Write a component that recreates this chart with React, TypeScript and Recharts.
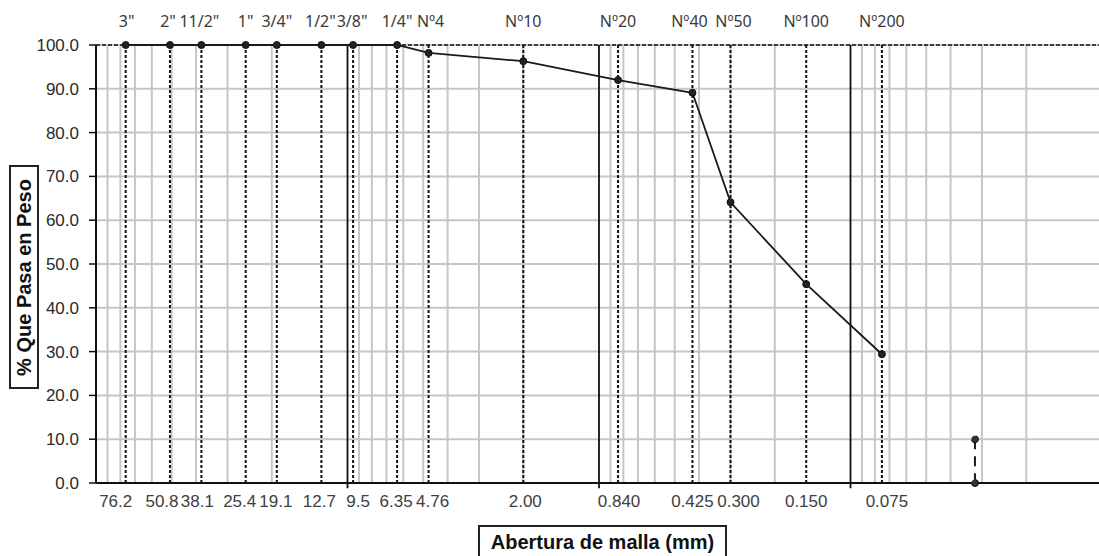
import { ComposedChart, Line, XAxis, YAxis, CartesianGrid, ReferenceLine } from 'recharts'

// sieve series (size in mm, % passing)
const sieveNames = ['3"', '2"', '11/2"', '1"', '3/4"', '1/2"', '3/8"', '1/4"', 'Nº4', 'Nº10', 'Nº20', 'Nº40', 'Nº50', 'Nº100', 'Nº200']
const sieveSizes = [76.2, 50.8, 38.1, 25.4, 19.1, 12.7, 9.5, 6.35, 4.76, 2.0, 0.84, 0.425, 0.3, 0.15, 0.075]
const sizeLabels = ['76.2', '50.8', '38.1', '25.4', '19.1', '12.7', '9.5', '6.35', '4.76', '2.00', '0.840', '0.425', '0.300', '0.150', '0.075']
const passing = [100, 100, 100, 100, 100, 100, 100, 100, 98.2, 96.3, 92.0, 89.1, 64.1, 45.4, 29.4]

// D10 marker (dashed segment)
const d10Size = [0.032, 0.032]
const d10Pass = [10, 0]

const yTicks = [0, 10, 20, 30, 40, 50, 60, 70, 80, 90, 100]
const yMinorTicks = [0, 4, 8, 10, 12, 16, 20, 24, 28, 30, 32, 36, 40, 44, 48, 50, 52, 56, 60, 64, 68, 70, 72, 76, 80, 84, 88, 90, 92, 96, 100]
const decades = [10, 1, 0.1]
const multiples = [2, 3, 4, 5, 6, 7, 8, 9]
const decadeBases = [0.01, 0.1, 1, 10]

// label nudges (px) so the crowded size labels don't collide, as in the original sheet
const bottomNudge = [-10, -8, -4, -6, -1, -2, 5, -1, 4, 2, 1, 0, 8, 0, 5]
const topNudge = [1, -2, -2, 0, 0, -1, -1, 0, 2, 0, 0, -3, 3, 0, 0]

const gridValues = decadeBases.flatMap((b) => [1, ...multiples].map((m) => Number((b * m).toPrecision(3)))).filter((v) => v > 0.01 && v < 100)
const minorGrid = gridValues.filter((v) => !decades.includes(v))

const curve = sieveSizes.map((s, i) => ({ size: s, pass: passing[i] }))
const d10 = d10Size.map((s, i) => ({ size: s, pass: d10Pass[i] }))

const DOMAIN: [number, number] = [0.01, 100]
const GRID = '#c6c6c6'
const FONT = 'Liberation Sans, Arial, sans-serif'

function BottomTick(props: any) {
  const i = sieveSizes.indexOf(props.payload?.value)
  return (
    <text x={props.x + (bottomNudge[i] ?? 0)} y={props.y} dy="0.71em" textAnchor="middle" fill="#404040" fontSize={17} fontFamily={FONT}>
      {sizeLabels[i] ?? ''}
    </text>
  )
}

function TopTick(props: any) {
  const i = sieveSizes.indexOf(props.payload?.value)
  return (
    <text x={props.x + (topNudge[i] ?? 0)} y={props.y} textAnchor="middle" fill="#3a3a3a" fontSize={16} fontFamily="Noto Sans, sans-serif">
      {sieveNames[i] ?? ''}
    </text>
  )
}

export default function App() {
  return (
    <div style={{ position: 'absolute', left: 0, top: 0, width: 1099, height: 556, overflow: 'hidden', background: '#fff' }}>
      <ComposedChart width={1110} height={556} margin={{ top: 0, right: 8, bottom: 0, left: 0 }}>
        <CartesianGrid vertical={false} stroke={GRID} strokeWidth={2} />
        {minorGrid.map((v) => (
          <ReferenceLine key={`g${v}`} x={v} stroke={GRID} strokeWidth={2} />
        ))}
        {decades.map((v) => (
          <ReferenceLine
            key={`d${v}`}
            segment={[{ x: v, y: -1.2 }, { x: v, y: 100 }]}
            stroke="#111"
            strokeWidth={1.8}
            ifOverflow="visible"
          />
        ))}
        {sieveSizes.map((v) => (
          <ReferenceLine key={`s${v}`} x={v} stroke="#111" strokeWidth={2} strokeDasharray="3 2" />
        ))}
        <ReferenceLine y={100} stroke="#111" strokeWidth={1.6} strokeDasharray="4 2" />

        <XAxis
          dataKey="size"
          type="number"
          scale="log"
          domain={DOMAIN}
          reversed
          allowDataOverflow
          ticks={sieveSizes}
          interval={0}
          height={73}
          axisLine={{ stroke: '#111', strokeWidth: 2 }}
          tickLine={false}
          tickSize={0}
          tickMargin={12}
          tick={<BottomTick />}
        />
        <XAxis
          xAxisId="minor"
          dataKey="size"
          type="number"
          scale="log"
          domain={DOMAIN}
          reversed
          allowDataOverflow
          ticks={gridValues}
          interval={0}
          mirror
          axisLine={false}
          tickLine={{ stroke: '#111', strokeWidth: 1.5 }}
          tickSize={4}
          tick={false}
        />
        <XAxis
          xAxisId="top"
          orientation="top"
          dataKey="size"
          type="number"
          scale="log"
          domain={DOMAIN}
          reversed
          allowDataOverflow
          ticks={sieveSizes}
          interval={0}
          height={45}
          axisLine={false}
          tickLine={false}
          tickSize={0}
          tickMargin={18}
          tick={<TopTick />}
        />
        <YAxis
          type="number"
          domain={[0, 100]}
          ticks={yTicks}
          interval={0}
          width={96}
          tickFormatter={(v) => Number(v).toFixed(1)}
          axisLine={{ stroke: '#111', strokeWidth: 2 }}
          tickLine={{ stroke: '#111', strokeWidth: 1.5 }}
          tickSize={7}
          tickMargin={10}
          tick={{ fill: '#2a2a2a', fontSize: 17, fontFamily: FONT }}
        />
        <YAxis
          yAxisId="minor"
          type="number"
          domain={[0, 100]}
          ticks={yMinorTicks}
          interval={0}
          mirror
          axisLine={false}
          tickLine={{ stroke: '#111', strokeWidth: 1.5 }}
          tickSize={4}
          tick={false}
        />

        <Line
          data={curve}
          dataKey="pass"
          stroke="#1a1a1a"
          strokeWidth={1.8}
          dot={{ r: 3.5, fill: '#222', stroke: '#111', strokeWidth: 1 }}
          isAnimationActive={false}
        />
        <Line
          data={d10}
          dataKey="pass"
          stroke="#1a1a1a"
          strokeWidth={2}
          strokeDasharray="10 7"
          dot={{ r: 3.5, fill: '#333', stroke: '#111', strokeWidth: 1 }}
          isAnimationActive={false}
        />
      </ComposedChart>

      <div
        style={{
          position: 'absolute',
          left: 9,
          top: 165,
          width: 30,
          height: 224,
          border: '2px solid #222',
          boxSizing: 'border-box',
          display: 'flex',
          alignItems: 'center',
          justifyContent: 'center',
        }}
      >
        <div
          style={{
            transform: 'rotate(-90deg)',
            whiteSpace: 'nowrap',
            fontFamily: FONT,
            fontWeight: 'bold',
            fontSize: 20,
            color: '#111',
          }}
        >
          % Que Pasa en Peso
        </div>
      </div>
      <div
        style={{
          position: 'absolute',
          left: 478,
          top: 525,
          width: 249,
          height: 34,
          border: '2px solid #222',
          boxSizing: 'border-box',
          fontFamily: FONT,
          fontWeight: 'bold',
          fontSize: 20,
          color: '#111',
          textAlign: 'center',
          lineHeight: '30px',
          whiteSpace: 'nowrap',
        }}
      >
        Abertura de malla (mm)
      </div>
    </div>
  )
}
